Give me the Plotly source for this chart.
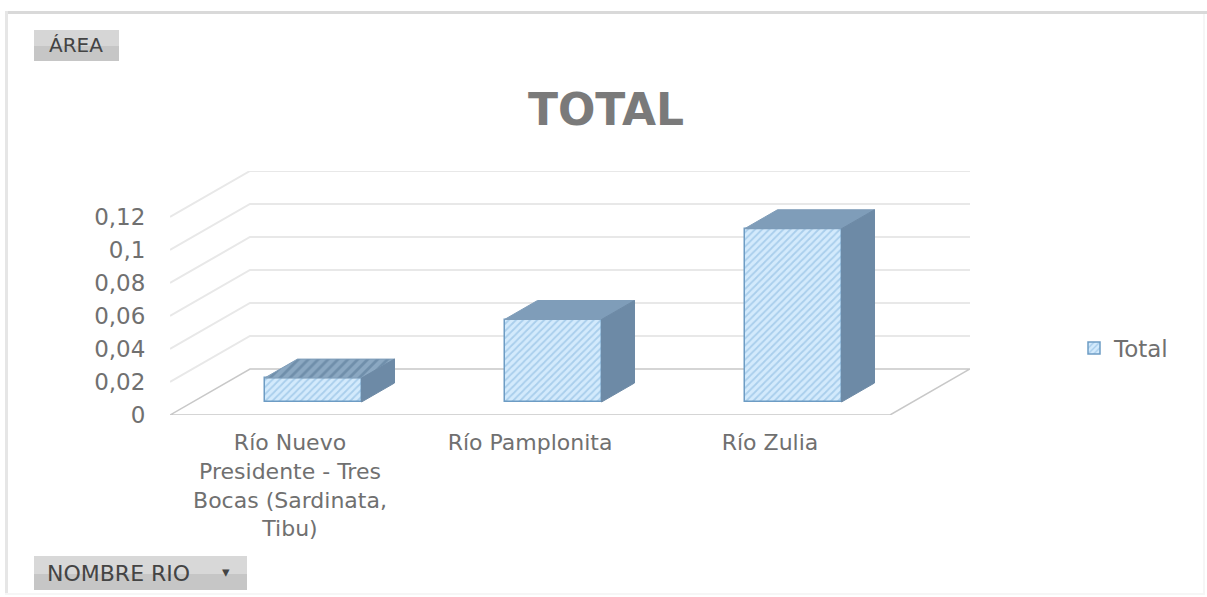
import plotly.graph_objects as go

# --- data ---
categories = ["Río Nuevo<br>Presidente - Tres<br>Bocas (Sardinata,<br>Tibu)", "Río Pamplonita", "Río Zulia"]
values = [0.0145, 0.05, 0.105]
y_ticks = [0, 0.02, 0.04, 0.06, 0.08, 0.1, 0.12]
y_labels = ["0", "0,02", "0,04", "0,06", "0,08", "0,1", "0,12"]
title_text = "TOTAL"
series_name = "Total"

# --- oblique-projection style ---
W, H = 1207, 597
X0, X1 = 170, 970      # plot area, px
Y0, Y1 = 171, 415
PX_PER_CAT = 240
PX_PER_Y = 1650
WALL_DX = 80 / PX_PER_CAT
WALL_DY = 46 / PX_PER_Y
BAR_DX = 33 / PX_PER_CAT
BAR_DY = 19 / PX_PER_Y
BAR_BASE = 13 / PX_PER_Y
BAR_SHIFT = 23 / PX_PER_CAT
BAR_W = 97 / PX_PER_CAT
x_lo = -0.5
x_front_hi = 2.5
x_hi = x_front_hi + WALL_DX
y_hi = y_ticks[-1] + WALL_DY

GRID = "#e8e8e8"
FLOOR = "#c8c8c8"
FACE_BG = "#d3eafc"
FACE_FG = "#7fb2dc"
EDGE = "#6d9cc4"
TOP = "#7f9db9"
SIDE = "#6d8aa6"
TEXT = "#707070"

fig = go.Figure()

# gridlines on side and back walls
for v in y_ticks[1:]:
    fig.add_trace(go.Scatter(
        x=[x_lo, x_lo + WALL_DX, x_hi], y=[v, v + WALL_DY, v + WALL_DY],
        mode="lines", line=dict(color=GRID, width=2), showlegend=False,
        hoverinfo="skip", zorder=0))
# floor
fig.add_trace(go.Scatter(
    x=[x_lo, x_front_hi, x_hi, x_lo + WALL_DX, x_lo],
    y=[0, 0, WALL_DY, WALL_DY, 0],
    mode="lines", line=dict(color=FLOOR, width=1.5), showlegend=False,
    hoverinfo="skip", zorder=0))

# front faces
bar_x = [i + BAR_SHIFT for i in range(len(values))]
fig.add_trace(go.Bar(
    x=bar_x, y=values, base=[BAR_BASE] * len(values), width=BAR_W, name=series_name,
    marker=dict(color=FACE_BG, line=dict(color=EDGE, width=1.5),
                pattern=dict(shape="/", fgcolor=FACE_FG, bgcolor=FACE_BG, size=5, solidity=0.35)),
    showlegend=True, zorder=1))

# top and side faces
for i, (cx, v) in enumerate(zip(bar_x, values)):
    l, r = cx - BAR_W / 2, cx + BAR_W / 2
    b, t = BAR_BASE, BAR_BASE + v
    top = dict(x=[l, r, r + BAR_DX, l + BAR_DX, l], y=[t, t, t + BAR_DY, t + BAR_DY, t])
    side = dict(x=[r, r + BAR_DX, r + BAR_DX, r, r], y=[b, b + BAR_DY, t + BAR_DY, t, b])
    top_style = dict(fillcolor=TOP)
    if i == 0:
        top_style["fillpattern"] = dict(shape="/", fgcolor="#557593", bgcolor="#8ba8c2",
                                        size=7, solidity=0.4)
    fig.add_trace(go.Scatter(mode="lines", fill="toself", line=dict(color=TOP, width=1),
                             showlegend=False, hoverinfo="skip", zorder=2, **top_style, **top))
    fig.add_trace(go.Scatter(mode="lines", fill="toself", fillcolor=SIDE,
                             line=dict(color=SIDE, width=1), showlegend=False,
                             hoverinfo="skip", zorder=2, **side))


# page pixels to paper fractions of the plot area
def fx(x):
    return (x - X0) / (X1 - X0)


def fy(y):
    return (Y1 - y) / (Y1 - Y0)


def pbox(x0, y0, x1, y1, fill):
    return dict(type="rect", xref="paper", yref="paper",
                x0=fx(x0), x1=fx(x1), y0=fy(y0), y1=fy(y1), layer="below",
                fillcolor=fill, line=dict(width=0))


shapes = [
    pbox(5, 11, 1207, 14, "#d9d9d9"),
    pbox(5, 11, 8, 595, "#e6e6e6"),
    pbox(1203, 14, 1205, 595, "#f6f6f6"),
    pbox(5, 593, 1205, 595, "#f6f6f6"),
    pbox(34, 30, 119, 46, "#d6d6d6"),
    pbox(34, 46, 119, 61, "#c6c6c6"),
    pbox(34, 556, 247, 574, "#d8d8d8"),
    pbox(34, 574, 247, 590, "#c6c6c6"),
]


def label(text, x, y, size):
    return dict(text=text, xref="paper", yref="paper", x=fx(x), y=fy(y), showarrow=False,
                xanchor="center", yanchor="middle",
                font=dict(family="DejaVu Sans", size=size, color="#444444"))


annotations = [
    label("ÁREA", 76, 45, 20),
    label("NOMBRE RIO", 118, 573, 22),
    label("▾", 226, 572, 15),
]

fig.update_layout(
    width=W, height=H, autosize=False,
    margin=dict(l=X0, r=W - X1, t=Y0, b=H - Y1, pad=0),
    paper_bgcolor="white", plot_bgcolor="rgba(0,0,0,0)",
    title=dict(text=title_text, x=606 / W, xanchor="center", y=1 - 110 / H, yanchor="middle",
               font=dict(family="DejaVu Sans", size=44, color="#7a7a7a", weight="bold")),
    font=dict(family="DejaVu Sans", color=TEXT),
    xaxis=dict(range=[x_lo, x_hi], tickmode="array", tickvals=[0, 1, 2], ticktext=categories,
               showgrid=False, zeroline=False, showline=False,
               ticks="outside", ticklen=8, tickcolor="rgba(0,0,0,0)",
               tickangle=0, automargin=False, tickfont=dict(size=22, color=TEXT)),
    yaxis=dict(range=[0, y_hi], tickmode="array", tickvals=y_ticks, ticktext=y_labels,
               showgrid=False, zeroline=False, showline=False,
               ticks="outside", ticklen=19, tickcolor="rgba(0,0,0,0)",
               automargin=False, tickfont=dict(size=23, color=TEXT)),
    legend=dict(x=fx(1074), y=fy(348), xanchor="left", yanchor="middle",
                bgcolor="rgba(0,0,0,0)", font=dict(size=23, color=TEXT), itemwidth=30),
    shapes=shapes, annotations=annotations, bargap=0,
)

fig.write_html("out.html", config={"displayModeBar": False},
               post_script="document.body.style.margin='0';document.body.style.overflow='hidden';")
